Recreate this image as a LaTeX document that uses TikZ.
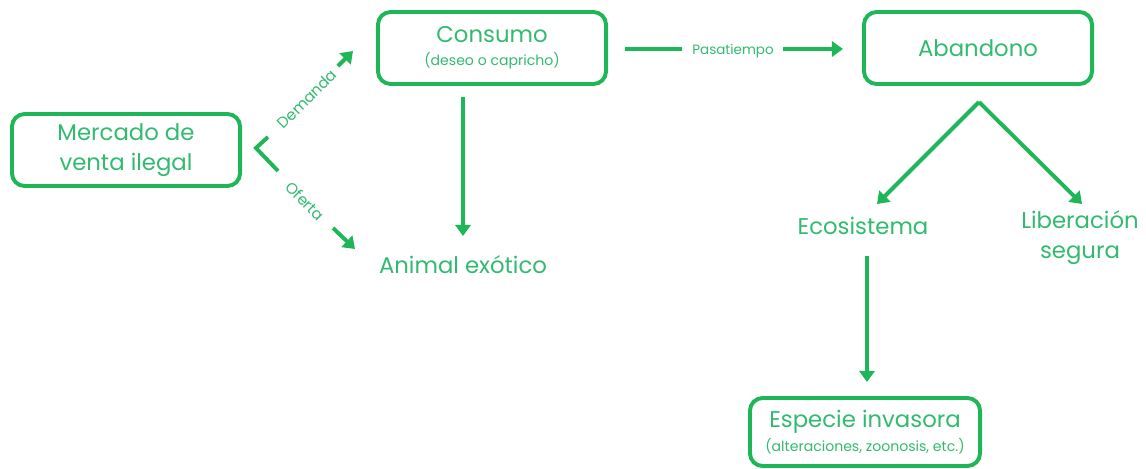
\documentclass[tikz,border=0pt]{standalone}
\usepackage{fontspec}
\setmainfont{Poppins}
\usetikzlibrary{arrows.meta}
\definecolor{gstroke}{RGB}{30,182,86}
\definecolor{gtext}{RGB}{50,186,112}
\tikzset{
  box/.style={draw=gstroke,line width=2.8pt,rounded corners=9pt,minimum width=5.7cm,minimum height=1.8cm,align=center,text=gtext,inner sep=0pt},
  big/.style={font=\fontsize{16.2}{21.3}\selectfont},
  plain/.style={text=gtext,align=center,inner sep=0pt},
  conn/.style={draw=gstroke,line width=2.8pt},
  arr/.style={conn,-{Triangle[width=11pt,length=8pt]}},
  small/.style={font=\fontsize{9.6}{11}\selectfont},
  diag/.style={font=\fontsize{10.8}{12}\selectfont},
}
\begin{document}
\begin{tikzpicture}[x=0.025cm,y=-0.025cm]
\useasboundingbox (0,0) rectangle (1146,468);
% boxes
\node[box,big] (merc) at (126,150) {Mercado de\\venta ilegal};
\node[box] (cons) at (492,48) {{\fontsize{16.2}{17}\selectfont Consumo}\\[4pt]{\fontsize{10}{11}\selectfont (deseo o capricho)}};
\node[box,big] (aban) at (978,48) {Abandono};
\node[box,minimum width=5.75cm,minimum height=1.7cm] (esp) at (865,432) {{\fontsize{16.2}{17}\selectfont Especie invasora}\\[3pt]{\fontsize{10}{11}\selectfont (alteraciones, zoonosis, etc.)}};
% plain text nodes
\node[plain,big] (animal) at (463,265) {Animal exótico};
\node[plain,big] (eco) at (863,226) {Ecosistema};
\node[plain,big] (lib) at (1080,238) {Liberación\\segura};
% coordinates
\coordinate (bv) at (256,148);
\coordinate (bt) at (268,137);
\coordinate (bb) at (278,171);
\coordinate (ds) at (338,66);
\coordinate (dt) at (353,51);
\coordinate (os) at (333,228);
\coordinate (ot) at (355,249);
\coordinate (ps1) at (625,49);
\coordinate (pe1) at (682,49);
\coordinate (ps2) at (783,49);
\coordinate (pt2) at (843,49);
\coordinate (cs) at (463,97);
\coordinate (ct) at (463,236);
\coordinate (ap) at (979,102);
\coordinate (lt) at (877,204);
\coordinate (rt) at (1082,204);
\coordinate (es) at (867,256);
\coordinate (et) at (867,382);
% connectors
\draw[conn] (bt) -- (bv) -- (bb);
\draw[arr] (ds) -- (dt);
\draw[arr] (os) -- (ot);
\node[plain,diag,rotate=45] (dem) at (307,99) {Demanda};
\node[plain,diag,rotate=-45] (ofe) at (305,201) {Oferta};
\draw[conn] (ps1) -- (pe1);
\node[plain,small] (pas) at (733,51) {Pasatiempo};
\draw[arr] (ps2) -- (pt2);
\draw[arr] (cs) -- (ct);
\draw[arr] (ap) -- (lt);
\draw[arr] (ap) -- (rt);
\draw[arr] (es) -- (et);
\end{tikzpicture}
\end{document}
